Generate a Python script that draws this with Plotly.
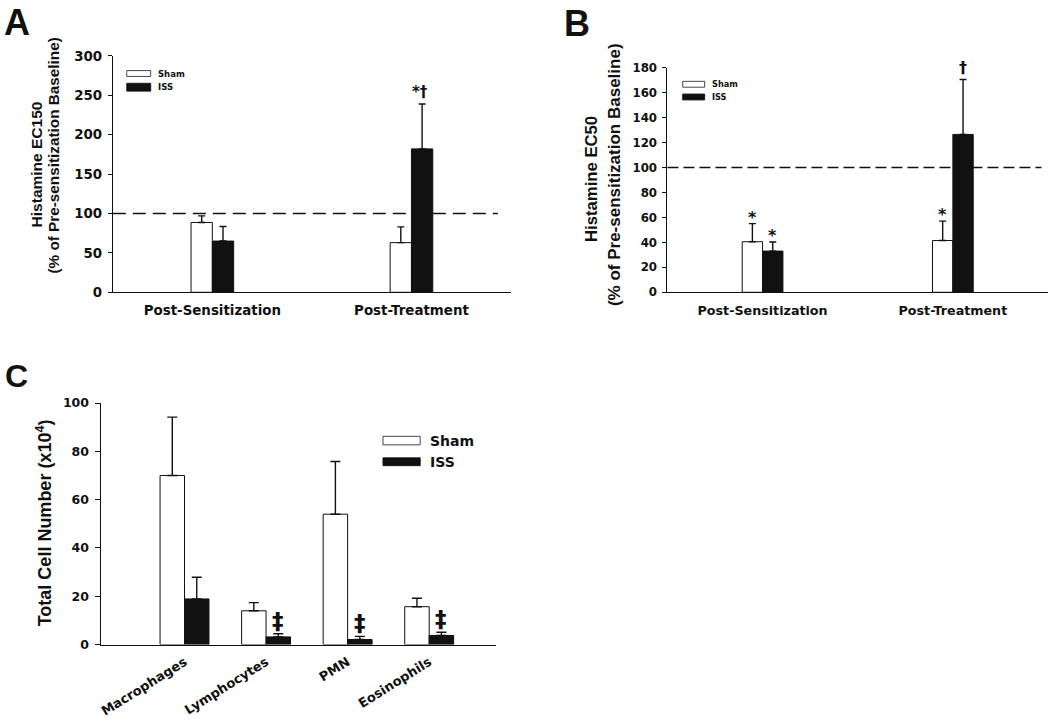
import plotly.graph_objects as go

W, H = 1050, 724

# ---------------- data ----------------
ab_categories = ["Post-Sensitization", "Post-Treatment"]

a_sham = [88.6, 63.0]
a_sham_err = [8.4, 20.0]
a_iss = [65.0, 182.0]
a_iss_err = [18.5, 57.0]
a_yticks = [0, 50, 100, 150, 200, 250, 300]
a_baseline = 100

b_sham = [40.5, 41.5]
b_sham_err = [14.5, 15.5]
b_iss = [33.0, 126.5]
b_iss_err = [7.3, 44.0]
b_yticks = [0, 20, 40, 60, 80, 100, 120, 140, 160, 180]
b_baseline = 100

c_categories = ["Macrophages", "Lymphocytes", "PMN", "Eosinophils"]
c_sham = [70.0, 14.0, 54.0, 15.7]
c_sham_err = [24.2, 3.4, 21.8, 3.5]
c_iss = [18.9, 3.2, 2.1, 3.8]
c_iss_err = [9.0, 1.3, 1.3, 1.3]
c_yticks = [0, 20, 40, 60, 80, 100]

series_names = ["Sham", "ISS"]

# ---------------- style ----------------
INK = "#111111"
HFONT = "DejaVu Sans"
VFONT = "Liberation Sans, Arial"


def fx(p):
    return p / W


def fy(p):
    return 1 - p / H


fig = go.Figure()

panels = [
    # (xaxis, yaxis, cats, sham, sham_err, iss, iss_err, width, cap)
    ("x", "y", ab_categories, a_sham, a_sham_err, a_iss, a_iss_err, 0.107, 3.5),
    ("x2", "y2", ab_categories, b_sham, b_sham_err, b_iss, b_iss_err, 0.107, 3.5),
    ("x3", "y3", c_categories, c_sham, c_sham_err, c_iss, c_iss_err, 0.30, 5),
]

for xa, ya, cats, sh, she, iss, isse, bw, cap in panels:
    fig.add_trace(go.Bar(
        x=cats, y=sh, width=bw, offset=-bw, name=series_names[0],
        xaxis=xa, yaxis=ya, showlegend=False,
        marker=dict(color="white", line=dict(color=INK, width=1)),
        error_y=dict(type="data", symmetric=False, array=she,
                     arrayminus=[0] * len(sh), color=INK,
                     thickness=1.4, width=cap),
    ))
    fig.add_trace(go.Bar(
        x=cats, y=iss, width=bw, offset=0, name=series_names[1],
        xaxis=xa, yaxis=ya, showlegend=False,
        marker=dict(color=INK, line=dict(color=INK, width=1)),
        error_y=dict(type="data", symmetric=False, array=isse,
                     arrayminus=[0] * len(iss), color=INK,
                     thickness=1.4, width=cap),
    ))

axis_common = dict(showline=True, linecolor=INK, linewidth=1, showgrid=False,
                   zeroline=False)

fig.update_layout(
    width=W, height=H,
    margin=dict(l=0, r=0, t=0, b=0),
    paper_bgcolor="white", plot_bgcolor="white",
    barmode="overlay",
    font=dict(family=HFONT, color=INK),
    xaxis=dict(domain=[fx(111), fx(510)], range=[-0.5, 1.5], anchor="y",
               ticks="", ticklabelstandoff=6,
               tickfont=dict(family=HFONT, size=13.4, weight="bold"),
               **axis_common),
    yaxis=dict(domain=[fy(290.7), fy(49)], range=[0, 300], anchor="x",
               tickvals=a_yticks, ticks="outside", ticklen=4,
               tickcolor=INK, ticklabelstandoff=3,
               tickfont=dict(family=HFONT, size=13.4, weight="bold"),
               **axis_common),
    xaxis2=dict(domain=[fx(666.7), fx(1048)], range=[-0.5, 1.5], anchor="y2",
                ticks="", ticklabelstandoff=6,
                tickfont=dict(family=HFONT, size=12.7, weight="bold"),
                **axis_common),
    yaxis2=dict(domain=[fy(290.7), fy(61)], range=[0, 180], anchor="x2",
                tickvals=b_yticks, ticks="outside", ticklen=4,
                tickcolor=INK, ticklabelstandoff=3,
                tickfont=dict(family=HFONT, size=11.8, weight="bold"),
                **axis_common),
    xaxis3=dict(domain=[fx(98.7), fx(495)], range=[-1.03, 3.82], anchor="y3",
                ticks="", tickangle=-32, ticklabelstandoff=4,
                tickfont=dict(family=HFONT, size=13, weight="bold"),
                **axis_common),
    yaxis3=dict(domain=[fy(651), fy(404)], range=[0, 100], anchor="x3",
                tickvals=c_yticks, ticks="outside", ticklen=5,
                tickcolor=INK, ticklabelstandoff=3,
                tickfont=dict(family=HFONT, size=12.5, weight="bold"),
                **axis_common),
)

# baseline dashed lines
fig.add_shape(type="line", xref="x domain", yref="y", x0=0, x1=0.967,
              y0=a_baseline, y1=a_baseline, layer="below",
              line=dict(color=INK, width=1.5, dash="13px,7px"))
fig.add_shape(type="line", xref="x2 domain", yref="y2", x0=0, x1=0.983,
              y0=b_baseline, y1=b_baseline, layer="below",
              line=dict(color=INK, width=1.3, dash="11px,5px"))

annotations = []


def ann(text, x, y, size, family=HFONT, **kw):
    d = dict(text=text, x=x, y=y, showarrow=False,
             font=dict(family=family, size=size, color=INK, weight="bold"))
    d.update(kw)
    annotations.append(d)


# panel letters
ann("<b>A</b>", fx(0), fy(15), 36, VFONT, xref="paper", yref="paper",
    xanchor="left", yanchor="middle")
ann("<b>B</b>", fx(561), fy(16), 36, VFONT, xref="paper", yref="paper",
    xanchor="left", yanchor="middle")
ann("<b>C</b>", fx(1), fy(376.5), 32, VFONT, xref="paper", yref="paper",
    xanchor="left", yanchor="middle")

# y-axis titles
ann("<b>Histamine EC150</b>", fx(35), fy(160), 15.5, VFONT, xref="paper",
    yref="paper", textangle=-90, xanchor="center", yanchor="middle")
ann("<b>(% of Pre-sensitization Baseline)</b>", fx(52), fy(151), 15.3, VFONT,
    xref="paper", yref="paper", textangle=-90, xanchor="center",
    yanchor="middle")
ann("<b>Histamine EC50</b>", fx(590), fy(175), 16.7, VFONT, xref="paper",
    yref="paper", textangle=-90, xanchor="center", yanchor="middle")
ann("<b>(% of Pre-sensitization Baseline)</b>", fx(613), fy(170), 17, VFONT,
    xref="paper", yref="paper", textangle=-90, xanchor="center",
    yanchor="middle")
ann("<b>Total Cell Number (x10<sup>4</sup>)</b>", fx(42), fy(526), 18, VFONT,
    xref="paper", yref="paper", textangle=-90, xanchor="center",
    yanchor="middle")

# significance markers
hw_ab = 0.107 / 2
hw_c = 0.30 / 2
ann("*†", 1 + hw_ab - 0.012, a_iss[1] + a_iss_err[1], 15, xref="x", yref="y",
    yanchor="bottom", yshift=1)
ann("*", 0 - hw_ab, b_sham[0] + b_sham_err[0], 16, xref="x2", yref="y2",
    yanchor="bottom", yshift=-5)
ann("*", 0 + hw_ab, b_iss[0] + b_iss_err[0], 16, xref="x2", yref="y2",
    yanchor="bottom", yshift=-5)
ann("*", 1 - hw_ab, b_sham[1] + b_sham_err[1], 16, xref="x2", yref="y2",
    yanchor="bottom", yshift=-5)
ann("†", 1 + hw_ab, b_iss[1] + b_iss_err[1], 16, xref="x2", yref="y2",
    yanchor="bottom", yshift=1)
for i in (1, 2, 3):
    ann("‡", i + hw_c, c_iss[i] + c_iss_err[i], 23, xref="x3", yref="y3",
        yanchor="bottom", yshift=-2)

# manual legends
legends = [
    # (box x0, x1, sham y0, y1, iss y0, iss y1, text x, font size)
    (125, 149, 64, 70, 77, 85, 154, 8.5),
    (682, 704, 75, 81, 88, 94, 709, 8.2),
    (381.7, 419, 438, 446.7, 460, 468, 427, 14),
]
for x0, x1, sy0, sy1, iy0, iy1, tx, fs in legends:
    fig.add_shape(type="rect", xref="paper", yref="paper",
                  x0=fx(x0), x1=fx(x1), y0=fy(sy1), y1=fy(sy0),
                  fillcolor="white", line=dict(color="#333333", width=0.9))
    fig.add_shape(type="rect", xref="paper", yref="paper",
                  x0=fx(x0), x1=fx(x1), y0=fy(iy1), y1=fy(iy0),
                  fillcolor=INK, line=dict(color=INK, width=0.9))
    ann(series_names[0], fx(tx), fy((sy0 + sy1) / 2), fs, xref="paper",
        yref="paper", xanchor="left", yanchor="middle")
    ann(series_names[1], fx(tx), fy((iy0 + iy1) / 2), fs, xref="paper",
        yref="paper", xanchor="left", yanchor="middle")

fig.update_layout(annotations=annotations)

fig.write_html("out.html", config={"displayModeBar": False},
               post_script="document.body.style.margin='0';")
